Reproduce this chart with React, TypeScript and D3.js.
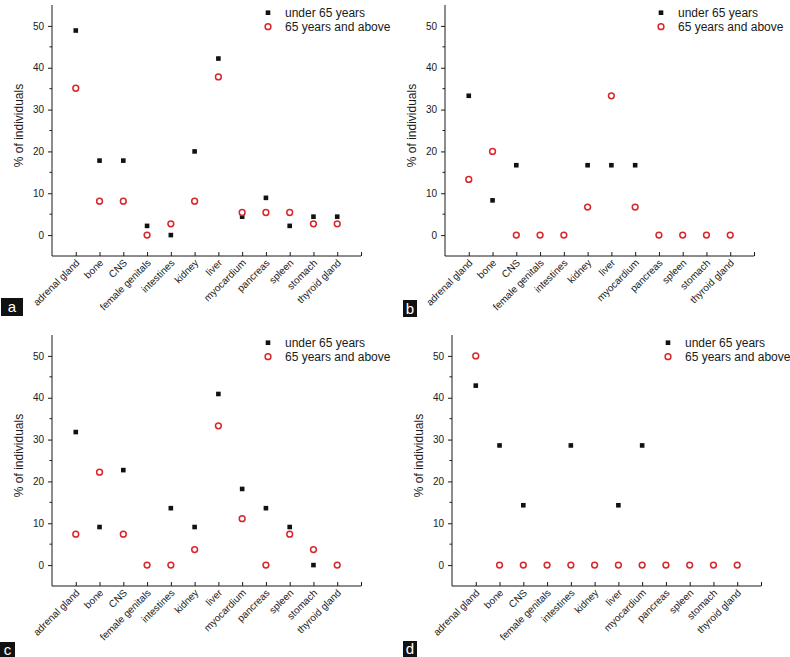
import React, { useEffect, useRef } from "react";
import * as d3 from "d3";

const categories = [
  "adrenal gland",
  "bone",
  "CNS",
  "female genitals",
  "intestines",
  "kidney",
  "liver",
  "myocardium",
  "pancreas",
  "spleen",
  "stomach",
  "thyroid gland",
];

const seriesNames = ["under 65 years", "65 years and above"];

// panel a
const under65A = [48.9, 17.8, 17.8, 2.2, 0, 20.0, 42.2, 4.4, 8.9, 2.2, 4.4, 4.4];
const over65A = [35.1, 8.1, 8.1, 0, 2.7, 8.1, 37.8, 5.4, 5.4, 5.4, 2.7, 2.7];
// panel b
const under65B = [33.3, 8.3, 16.7, 0, 0, 16.7, 16.7, 16.7, 0, 0, 0, 0];
const over65B = [13.3, 20.0, 0, 0, 0, 6.7, 33.3, 6.7, 0, 0, 0, 0];
// panel c
const under65C = [31.8, 9.1, 22.7, 0, 13.6, 9.1, 40.9, 18.2, 13.6, 9.1, 0, 0];
const over65C = [7.4, 22.2, 7.4, 0, 0, 3.7, 33.3, 11.1, 0, 7.4, 3.7, 0];
// panel d
const under65D = [42.9, 28.6, 14.3, 0, 28.6, 0, 14.3, 28.6, 0, 0, 0, 0];
const over65D = [50.0, 0, 0, 0, 0, 0, 0, 0, 0, 0, 0, 0];

const yTicks = [0, 10, 20, 30, 40, 50];
const yMinorTicks = [5, 15, 25, 35, 45];

const panels = [
  { letter: "a", under: under65A, over: over65A, left: 52, top: 5, box: [1, 298, 22, 18] },
  { letter: "b", under: under65B, over: over65B, left: 445, top: 5, box: [403, 300, 14, 17] },
  { letter: "c", under: under65C, over: over65C, left: 52, top: 335, box: [0, 642, 15, 15] },
  { letter: "d", under: under65D, over: over65D, left: 452, top: 335, box: [403, 641, 14, 16] },
];

const font = "'Liberation Sans', Arial, Helvetica, sans-serif";
const red = "#d8262b";
const ink = "#1a1a1a";

const App = () => {
  const svgRef = useRef<SVGSVGElement>(null);

  useEffect(() => {
    const width = 790;
    const height = 657;
    const plotW = 309;
    const plotH = 251;

    const svg = d3.select(svgRef.current).attr("width", width).attr("height", height);
    svg.selectAll("*").remove();

    const x = d3.scaleLinear().domain([0, 13]).range([0, plotW]);
    const y = d3.scaleLinear().domain([-5, 55]).range([plotH, 0]);

    panels.forEach((p) => {
      const g = svg.append("g").attr("transform", `translate(${p.left},${p.top})`);

      // y axis
      const yAxis = g
        .append("g")
        .call(
          d3
            .axisLeft(y)
            .tickValues(yTicks)
            .tickSize(4)
            .tickPadding(4)
            .tickFormat(d3.format("d"))
        );
      yAxis.select(".domain").attr("stroke", ink).attr("d", `M0,0V${plotH}`);
      yAxis.selectAll(".tick line").attr("stroke", ink);
      yAxis
        .selectAll(".tick text")
        .attr("fill", ink)
        .style("font-family", font)
        .style("font-size", "10px");

      g.append("g")
        .selectAll("line")
        .data(yMinorTicks)
        .join("line")
        .attr("x1", -2.5)
        .attr("x2", 0)
        .attr("y1", (d) => y(d))
        .attr("y2", (d) => y(d))
        .attr("stroke", ink);

      // x axis, ticks pointing inward
      const xAxis = g
        .append("g")
        .attr("transform", `translate(0,${plotH})`)
        .call(
          d3
            .axisBottom(x)
            .tickValues(d3.range(1, 14))
            .tickSize(-4)
            .tickFormat(() => "")
        );
      xAxis.select(".domain").attr("stroke", ink).attr("d", `M0,0H${plotW}`);
      xAxis.selectAll(".tick line").attr("stroke", ink);

      // rotated category labels
      g.append("g")
        .selectAll("text")
        .data(categories)
        .join("text")
        .attr("transform", (d, i) => `translate(${x(i + 1) + 2},${plotH + 5}) rotate(-45)`)
        .attr("text-anchor", "end")
        .attr("dy", "0.35em")
        .attr("fill", ink)
        .style("font-family", font)
        .style("font-size", "10px")
        .text((d) => d);

      // y label
      g.append("text")
        .attr("transform", `translate(-29,${plotH / 2 - 5}) rotate(-90)`)
        .attr("text-anchor", "middle")
        .attr("fill", ink)
        .style("font-family", font)
        .style("font-size", "12px")
        .text("% of individuals");

      // under 65 squares
      g.append("g")
        .selectAll("rect")
        .data(p.under)
        .join("rect")
        .attr("x", (d, i) => x(i + 1) - 2.3)
        .attr("y", (d) => y(d) - 2.3)
        .attr("width", 4.6)
        .attr("height", 4.6)
        .attr("fill", "#111");

      // 65+ circles
      g.append("g")
        .selectAll("circle")
        .data(p.over)
        .join("circle")
        .attr("cx", (d, i) => x(i + 1))
        .attr("cy", (d) => y(d))
        .attr("r", 2.9)
        .attr("fill", "#fff")
        .attr("stroke", red)
        .attr("stroke-width", 1.5);

      // legend
      const lg = g.append("g").attr("transform", `translate(216,0)`);
      const legendY = [7.7, 21.7];
      lg.append("rect")
        .attr("x", -2.3)
        .attr("y", legendY[0] - 2.3)
        .attr("width", 4.6)
        .attr("height", 4.6)
        .attr("fill", "#111");
      lg.append("circle")
        .attr("cx", 0)
        .attr("cy", legendY[1])
        .attr("r", 2.9)
        .attr("fill", "#fff")
        .attr("stroke", red)
        .attr("stroke-width", 1.5);
      lg.selectAll("text")
        .data(seriesNames)
        .join("text")
        .attr("x", 17)
        .attr("y", (d, i) => legendY[i])
        .attr("dy", "0.35em")
        .attr("fill", ink)
        .style("font-family", font)
        .style("font-size", "12px")
        .text((d) => d);

      // panel letter
      const [bx, by, bw, bh] = p.box;
      svg.append("rect").attr("x", bx).attr("y", by).attr("width", bw).attr("height", bh).attr("fill", "#111");
      svg
        .append("text")
        .attr("x", bx + bw / 2)
        .attr("y", by + bh / 2)
        .attr("dy", "0.36em")
        .attr("text-anchor", "middle")
        .attr("fill", "#fff")
        .style("font-family", font)
        .style("font-size", "15px")
        .text(p.letter);
    });
  }, []);

  return (
    <div style={{ position: "absolute", left: 0, top: 0, background: "#fff" }}>
      <svg ref={svgRef}></svg>
    </div>
  );
};

export default App;
